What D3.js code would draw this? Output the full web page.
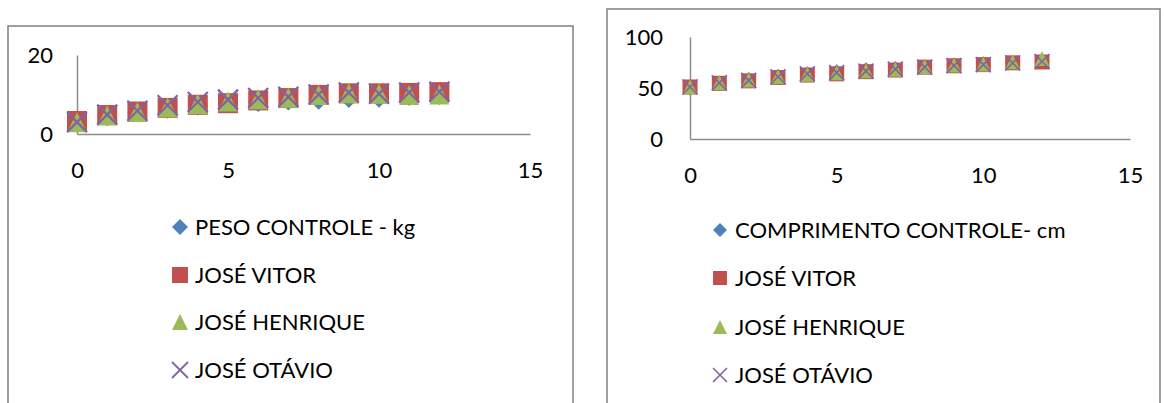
<!DOCTYPE html>
<html>
<head>
<meta charset="utf-8">
<script src="https://cdn.jsdelivr.net/npm/d3@7/dist/d3.min.js"></script>
<style>
  html, body { margin: 0; padding: 0; background: #fff; }
  svg { display: block; }
  text { font-family: Lato, "Open Sans", sans-serif; fill: #000; }
</style>
</head>
<body>
<svg id="chart" width="1164" height="403"></svg>
<script>
// Months of age (x values shared by every series)
const months = [0, 1, 2, 3, 4, 5, 6, 7, 8, 9, 10, 11, 12];

// Weight (kg)
const pesoControle   = [3.3, 4.5, 5.5, 6.4, 7.2, 7.8, 8.1, 8.5, 8.7, 9.1, 9.2, 9.6, 9.9];
const pesoVitor      = [3.3, 4.8, 5.7, 6.6, 7.4, 7.8, 8.5, 9.1, 9.9, 10.3, 10.3, 10.4, 10.6];
const pesoHenrique   = [3.0, 4.7, 5.6, 6.7, 7.6, 8.2, 8.8, 9.2, 9.9, 10.3, 10.2, 9.9, 10.0];
const pesoOtavio     = [3.0, 4.9, 5.9, 7.3, 8.1, 8.7, 9.1, 9.4, 10.0, 10.5, 10.2, 10.5, 10.7];

// Length (cm)
const compControle   = [50.0, 54.7, 58.4, 61.6, 64.0, 66.0, 68.0, 69.2, 71.2, 72.8, 73.8, 74.8, 75.9];
const compVitor      = [51.0, 54.6, 57.0, 60.3, 62.7, 63.9, 66.0, 67.6, 70.4, 71.8, 72.9, 74.7, 75.5];
const compHenrique   = [51.0, 55.4, 57.8, 61.0, 63.5, 65.0, 67.0, 68.5, 71.0, 72.5, 73.5, 75.7, 78.9];
const compOtavio     = [51.0, 55.0, 57.5, 61.0, 64.0, 65.0, 66.5, 68.5, 70.5, 72.0, 73.0, 74.5, 76.0];

// Axis ticks
const xTicks = [0, 5, 10, 15];
const pesoTicks = [0, 20];
const compTicks = [0, 50, 100];

// Legend labels
const pesoLabels = ["PESO CONTROLE - kg", "JOSÉ VITOR", "JOSÉ HENRIQUE", "JOSÉ OTÁVIO"];
const compLabels = ["COMPRIMENTO CONTROLE- cm", "JOSÉ VITOR", "JOSÉ HENRIQUE", "JOSÉ OTÁVIO"];

const markers = ["diamond", "square", "triangle", "cross"];
const colors = ["#4F81BD", "#C0504D", "#9BBB59", "#8064A2"];

const svg = d3.select("#chart");

// Marker path of a given kind, centered on 0,0 with full width s
function markerPath(kind, s) {
  const h = s / 2;
  if (kind === "diamond") return `M0,${-h}L${h},0L0,${h}L${-h},0Z`;
  if (kind === "square") return `M${-h},${-h}H${h}V${h}H${-h}Z`;
  if (kind === "triangle") return `M0,${-h}L${h},${h}L${-h},${h}Z`;
  return `M${-h},${-h}L${h},${h}M${h},${-h}L${-h},${h}`;
}

function drawMarker(g, kind, color, s) {
  const p = g.append("path").attr("d", markerPath(kind, s));
  if (kind === "cross") {
    p.attr("fill", "none").attr("stroke", color).attr("stroke-width", Math.max(1.6, s / 9));
  } else {
    p.attr("fill", color);
  }
}

function drawChart(cfg) {
  const g = svg.append("g");

  // chart frame
  g.append("rect")
    .attr("x", cfg.frame[0]).attr("y", cfg.frame[1])
    .attr("width", cfg.frame[2]).attr("height", cfg.frame[3])
    .attr("fill", "#fff").attr("stroke", "#878787").attr("stroke-width", 1.6);

  const x = d3.scaleLinear().domain([0, 15]).range(cfg.xRange);
  const y = d3.scaleLinear().domain(cfg.yDomain).range(cfg.yRange);

  // axes
  const xAxis = g.append("g")
    .attr("transform", `translate(0,${y(0)})`)
    .call(d3.axisBottom(x).tickValues(xTicks).tickSize(0).tickPadding(cfg.xPad).tickFormat(d3.format("d")));
  const yAxis = g.append("g")
    .attr("transform", `translate(${x(0)},0)`)
    .call(d3.axisLeft(y).tickValues(cfg.yTicks).tickSize(0).tickPadding(cfg.yPad).tickFormat(d3.format("d")));
  [xAxis, yAxis].forEach(a => {
    a.select(".domain").attr("stroke", "#8c8c8c").attr("stroke-width", 1.5);
    a.selectAll("text").attr("font-size", cfg.tickFont).attr("font-family", "Lato, sans-serif").attr("fill", "#000");
  });

  // series, in plotting order
  cfg.series.forEach((vals, i) => {
    const sg = g.append("g");
    months.forEach((m, j) => {
      const mg = sg.append("g").attr("transform", `translate(${x(m)},${y(vals[j])})`);
      drawMarker(mg, markers[i], colors[i], cfg.markerSize);
    });
  });

  // legend
  const lg = g.append("g");
  cfg.labels.forEach((lab, i) => {
    const row = lg.append("g").attr("transform", `translate(${cfg.legendX},${cfg.legendY[i]})`);
    const mg = row.append("g");
    drawMarker(mg, markers[i], colors[i], cfg.legendMarker);
    row.append("text")
      .attr("x", cfg.legendTextDx).attr("y", 0)
      .attr("dy", "0.36em")
      .attr("font-size", cfg.legendFont)
      .text(lab);
  });
}

drawChart({
  frame: [8, 26, 565, 420],
  xRange: [77, 530],
  yDomain: [0, 20],
  yRange: [134, 55],
  yTicks: pesoTicks,
  xPad: 28, yPad: 24,
  tickFont: 22,
  series: [pesoControle, pesoVitor, pesoHenrique, pesoOtavio],
  labels: pesoLabels,
  markerSize: 20,
  legendMarker: 16,
  legendX: 180,
  legendY: [227, 275, 322, 370],
  legendTextDx: 15,
  legendFont: 22
});

drawChart({
  frame: [607, 9, 553, 440],
  xRange: [690, 1130],
  yDomain: [0, 100],
  yRange: [139, 37],
  yTicks: compTicks,
  xPad: 28, yPad: 27,
  tickFont: 22,
  series: [compControle, compVitor, compHenrique, compOtavio],
  labels: compLabels,
  markerSize: 15,
  legendMarker: 14,
  legendX: 720,
  legendY: [230, 278, 327, 375],
  legendTextDx: 15,
  legendFont: 22
});
</script>
</body>
</html>
